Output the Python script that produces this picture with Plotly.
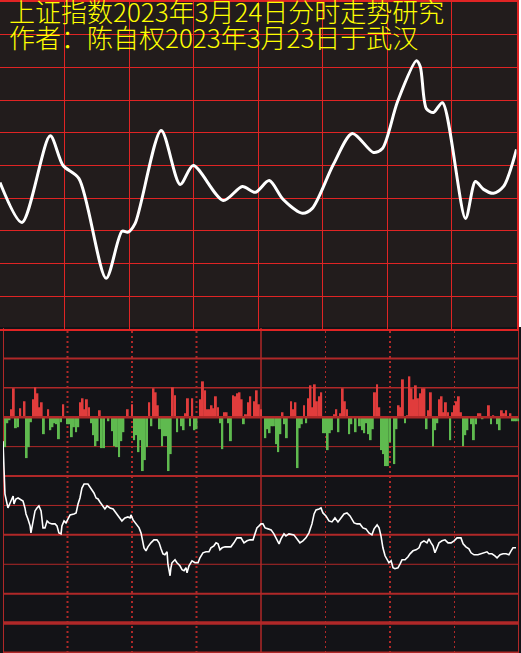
import plotly.graph_objects as go

# ─── Theme ────────────────────────────────────────────────────────────────────
W, H = 521, 653
TOP_BG = "#221c1c"
BOT_BG = "#131317"
TOP_GRID = "#e02424"
BOT_GRID = "#b02828"
UP = "#e03c3c"
DOWN = "#5fba4f"
YELLOW = "#ffff00"
FONT = "Noto Sans CJK SC"

# ─── Data ─────────────────────────────────────────────────────────────────────
title_lines = ["上证指数2023年3月24日分时走势研究", "作者：陈自权2023年3月23日于武汉"]

# forecast curve (minute of session, grid-row level)
top_minute = [0, 10.2, 23.3, 29.3, 36.7, 49.3, 56.7, 59.5, 62.8, 74.9, 83.7, 89.8,
              103.7, 112.6, 118.6, 125.1, 131.6, 140.5, 145.1, 154.9, 163.7, 173.5,
              177.7, 184.7, 193.5, 195.3, 198.1, 201.4, 205.6, 216.3, 220.9, 224.7,
              229.3, 234.0, 240]
top_level = [4.48, 3.26, 5.91, 5.00, 4.60, 1.55, 2.99, 2.96, 3.23, 6.07, 4.42, 5.00,
             3.93, 4.36, 4.18, 4.54, 3.96, 3.54, 3.69, 5.03, 5.98, 5.40,
             5.52, 6.95, 8.20, 8.02, 6.74, 6.62, 6.92, 3.38, 4.51, 4.27,
             4.15, 4.36, 5.49]

# per-minute buy/sell flow bars
bar_minute = [1, 2, 3, 4, 5, 6, 7, 8, 10, 11, 12, 13, 14, 15, 16, 17, 18, 19, 21, 22,
              23, 24, 25, 26, 27, 28, 30, 31, 32, 33, 34, 35, 36, 37, 38, 39, 40, 41,
              42, 43, 44, 45, 46, 47, 49, 51, 52, 53, 54, 55, 56, 58, 60, 61, 62, 63,
              64, 65, 66, 67, 68, 69, 70, 71, 72, 73, 74, 75, 76, 77, 78, 79, 80, 81,
              83, 84, 85, 86, 87, 88, 89, 90, 92, 93, 94, 95, 96, 97, 98, 99, 100, 101,
              102, 103, 104, 105, 106, 107, 108, 109, 110, 111, 112, 113, 114, 115,
              117, 118, 119, 120, 122, 123, 124, 125, 126, 127, 128, 129, 130, 131,
              132, 134, 135, 136, 137, 138, 139, 140, 141, 142, 143, 144, 145, 146,
              147, 148, 149, 150, 151, 152, 153, 154, 155, 156, 157, 158, 159, 160,
              161, 162, 164, 166, 167, 168, 169, 170, 171, 172, 173, 174, 175, 176,
              177, 178, 179, 180, 182, 183, 184, 185, 186, 187, 188, 189, 190, 191,
              192, 193, 194, 195, 196, 197, 198, 199, 200, 201, 202, 203, 204, 205,
              206, 207, 208, 209, 210, 211, 212, 213, 214, 215, 216, 218, 219, 220,
              221, 222, 223, 226, 227, 228, 230, 231, 232, 233, 234, 236, 237, 238,
              239, 240]
bar_flow = [-30, -6, -3, 8, 29, -11, -10, 9, 16, -41, -30, -5, 18, 30, 24, 10, 15, -17, 8, -13,
            -10, -6, -7, -22, -5, 13, -7, -7, -20, -10, -15, -10, 15, 19, 8, 18, 10, -6,
            -18, -29, -24, 7, -31, -31, -4, -14, -29, -30, -40, -24, -15, 8, 13, -23, -18, -35,
            -23, -54, -43, -30, 15, -9, 29, 25, 12, -12, -29, -19, -19, -54, -37, 30, 22, -15,
            -9, -13, 4, 19, -9, 19, -13, -12, 18, 36, 27, 8, 8, 12, 9, 21, 10, -6,
            -32, 5, 5, -6, -24, 22, 21, 24, 25, 18, -7, 3, 15, 21,
            16, 27, 13, 8, -21, -12, -16, -9, -9, -27, -35, -17, 5, -7,
            -21, 16, 8, 15, -51, -11, -7, 12, -6, 19, 32, 10, 33, 16,
            21, 25, -16, -16, -33, -16, -13, 3, 8, -15, 4, 29, 16, 8,
            -17, -7, -15, -9, -13, -16, -6, -17, -23, -12, 25, 33, 10, -33,
            -37, -49, -49, -25, -47, -12, 12, 10, 38, -6, 2, 41, 29, 18,
            32, 19, 24, 29, 29, -12, 7, 25, -29, -13, -6, 18, 21, 5,
            15, 5, -23, 5, 12, 16, 21, 5, -29, -18, -13, -7, -23, -7,
            4, 4, -2, 12, -7, 2, -7, -13, 7, 4, 7, 4, -4, -4,
            -4, -4]

# actual intraday index line (same minute scale)
line_minute = [0, 0.5, 0.9, 1.4, 2.3, 3.3, 4.2, 4.7, 5.1, 6.0, 7.0, 7.9, 9.3, 10.2, 10.7,
               11.6, 12.6, 13.0, 14.0, 14.9, 15.8, 16.7, 17.7, 18.1, 18.6, 19.5, 20.5,
               21.4, 22.8, 24.2, 25.1, 26.0, 27.0, 27.4, 28.4, 29.3, 30.2, 31.2, 33.0,
               34.0, 34.9, 35.8, 36.7, 37.7, 39.5, 40.9, 42.3, 43.3, 44.2, 45.1, 46.5,
               47.4, 48.4, 49.8, 51.2, 52.6, 54.0, 55.3, 56.7, 58.1, 59.1, 59.5, 60.5,
               61.9, 63.3, 64.2, 64.7, 65.6, 66.5, 67.4, 68.8, 70.2, 71.6, 72.6, 73.5,
               74.4, 75.3, 76.3, 76.7, 77.2, 77.7, 78.1, 78.6, 80.0, 80.9, 82.3, 83.3,
               84.2, 85.1, 85.6, 86.5, 87.9, 89.3, 90.7, 91.6, 93.0, 94.4, 95.8, 96.7,
               98.1, 99.1, 100.0, 100.9, 101.9, 103.3, 104.7, 106.0, 107.4, 108.8, 110.7,
               112.1, 113.5, 114.9, 116.3, 117.2, 118.1, 119.1, 120.0, 120.9, 121.9,
               123.3, 124.7, 126.0, 127.0, 128.4, 129.3, 130.7, 131.6, 133.0, 135.3,
               136.7, 138.1, 139.5, 140.9, 142.3, 143.7, 144.7, 145.6, 147.0, 147.9,
               148.8, 150.2, 151.6, 153.0, 154.4, 155.8, 157.2, 158.6, 160.0, 161.4,
               163.3, 164.7, 166.0, 167.4, 168.8, 170.2, 171.6, 172.6, 174.0, 174.9,
               175.8, 176.7, 177.7, 178.6, 179.5, 180.5, 181.4, 182.3, 183.7, 184.7,
               185.6, 187.0, 188.4, 189.3, 190.7, 192.1, 193.5, 194.4, 195.8, 197.2,
               198.1, 199.1, 200.0, 200.9, 201.9, 202.8, 204.2, 205.6, 207.0, 208.4,
               209.8, 211.2, 213.0, 214.0, 215.3, 216.7, 217.7, 219.1, 220.9, 222.3,
               223.7, 225.1, 226.0, 227.4, 228.8, 229.8, 231.2, 232.6, 234.0, 235.3,
               236.3, 237.2, 238.6]
line_level = [-24, -50, -77, -82, -91, -86, -81, -79, -87, -82, -81, -82, -84, -91, -97,
              -102, -109, -116, -102, -94, -91, -89, -94, -104, -111, -111, -104,
              -106, -107, -107, -109, -116, -117, -109, -104, -106, -102, -98, -97,
              -96, -87, -81, -71, -67, -67, -71, -76, -81, -82, -85, -89,
              -92, -89, -91, -92, -96, -101, -104, -101, -100, -101, -98, -103,
              -107, -111, -116, -121, -131, -134, -130, -126, -123, -123, -126, -132,
              -137, -138, -135, -147, -154, -159, -151, -146, -143, -146, -149, -153,
              -154, -151, -156, -149, -144, -146, -146, -141, -136, -135, -135, -131,
              -129, -126, -127, -133, -131, -130, -130, -130, -126, -121, -121,
              -126, -124, -123, -123, -117, -111, -109, -107, -107, -111,
              -112, -113, -117, -121, -127, -122, -117, -119, -117, -118,
              -122, -126, -124, -121, -116, -107, -97, -93, -92, -91,
              -96, -99, -104, -105, -101, -105, -101, -97, -96, -99,
              -106, -107, -107, -111, -112, -116, -118, -112, -108, -111,
              -119, -131, -139, -143, -146, -144, -151, -152, -151, -147,
              -143, -143, -140, -137, -134, -133, -131, -126, -124, -126,
              -122, -126, -129, -136, -131, -126, -124, -123, -126, -126,
              -124, -121, -121, -127, -130, -132, -136, -138, -138, -137,
              -136, -135, -137, -137, -139, -141, -138, -137, -137, -138,
              -134, -131, -131]

# lower panel grid: row spacing, line widths top->bottom, column styles
row_step = 29.5
row_widths = [2, 1.5, 2.5, 1, 2, 1, 2, 1, 2, 3.5, 2]
col_minutes = [0, 30, 60, 90, 120, 150, 180, 210, 240]
col_styles = [(2, "solid"), (2, "2px,3px"), (2, "2px,3px"), (2, "2px,3px"), (1.5, "solid"),
              (1, "2px,3px"), (2, "2px,3px"), (1, "2px,3px"), (2, "solid")]

# ─── Figure ───────────────────────────────────────────────────────────────────
top_bottom = 1 - 328 / H
bot_top = 326 / H

fig = go.Figure()
fig.add_trace(go.Scatter(
    x=top_minute, y=top_level, mode="lines",
    line=dict(color="white", width=3, shape="spline", smoothing=0.8),
    xaxis="x", yaxis="y", hoverinfo="skip", showlegend=False,
))
fig.add_trace(go.Bar(
    x=bar_minute, y=bar_flow, width=0.9,
    marker=dict(color=[UP if v > 0 else DOWN for v in bar_flow], line=dict(width=0)),
    xaxis="x2", yaxis="y2", hoverinfo="skip", showlegend=False,
))
fig.add_trace(go.Scatter(
    x=line_minute, y=line_level, mode="lines",
    line=dict(color="white", width=1.6),
    xaxis="x2", yaxis="y2", hoverinfo="skip", showlegend=False,
))

shapes = [
    dict(type="rect", xref="paper", yref="paper", x0=0, x1=517 / W, y0=top_bottom, y1=1,
         fillcolor=TOP_BG, line=dict(width=0), layer="below"),
    dict(type="rect", xref="paper", yref="paper", x0=0, x1=1, y0=0, y1=bot_top + 1 / H,
         fillcolor=BOT_BG, line=dict(width=0), layer="below"),
]
for i, w in enumerate(row_widths):
    yv = (2 - i) * row_step
    shapes.append(dict(type="line", xref="x2 domain", yref="y2", x0=0, x1=1, y0=yv, y1=yv,
                       line=dict(color=BOT_GRID, width=w),
                       layer="above" if yv == 0 else "below"))
for m, (w, d) in zip(col_minutes, col_styles):
    shapes.append(dict(type="line", xref="x2", yref="y2 domain", x0=m, x1=m, y0=0, y1=1,
                       line=dict(color=BOT_GRID, width=w, dash=d), layer="below"))

annotations = [
    dict(text=title_lines[0], x=7 / W, y=1 - 8.5 / H),
    dict(text=title_lines[1], x=7 / W, y=1 - 34.5 / H),
]
for a in annotations:
    a.update(xref="paper", yref="paper", xanchor="left", yanchor="middle", showarrow=False,
             font=dict(family=FONT, size=26, color=YELLOW, weight=300))

fig.update_layout(
    width=W, height=H,
    margin=dict(l=0, r=0, t=0, b=0),
    paper_bgcolor="white",
    plot_bgcolor="rgba(0,0,0,0)",
    xaxis=dict(domain=[0, 516.5 / W], range=[0, 240], dtick=30, tick0=0,
               showgrid=True, gridcolor=TOP_GRID, gridwidth=1, zeroline=False,
               showticklabels=False, ticks="", showline=True, mirror=True,
               linecolor=TOP_GRID, linewidth=1.5, fixedrange=True),
    yaxis=dict(domain=[top_bottom, 1], range=[0, 10], dtick=1, tick0=0,
               showgrid=True, gridcolor=TOP_GRID, gridwidth=1, zeroline=False,
               showticklabels=False, ticks="", showline=True, mirror=True,
               linecolor=TOP_GRID, linewidth=1.5, fixedrange=True),
    xaxis2=dict(domain=[3 / W, 519 / W], range=[0, 240], visible=False, anchor="y2"),
    yaxis2=dict(domain=[0, bot_top], range=[-236.5, 89.5], visible=False, anchor="x2"),
    shapes=shapes,
    annotations=annotations,
    showlegend=False,
)

# the page body has a default 8px margin; drop it so the chart fills the window
fig.write_html("out.html", config={"displayModeBar": False},
               post_script="document.body.style.margin='0';")
